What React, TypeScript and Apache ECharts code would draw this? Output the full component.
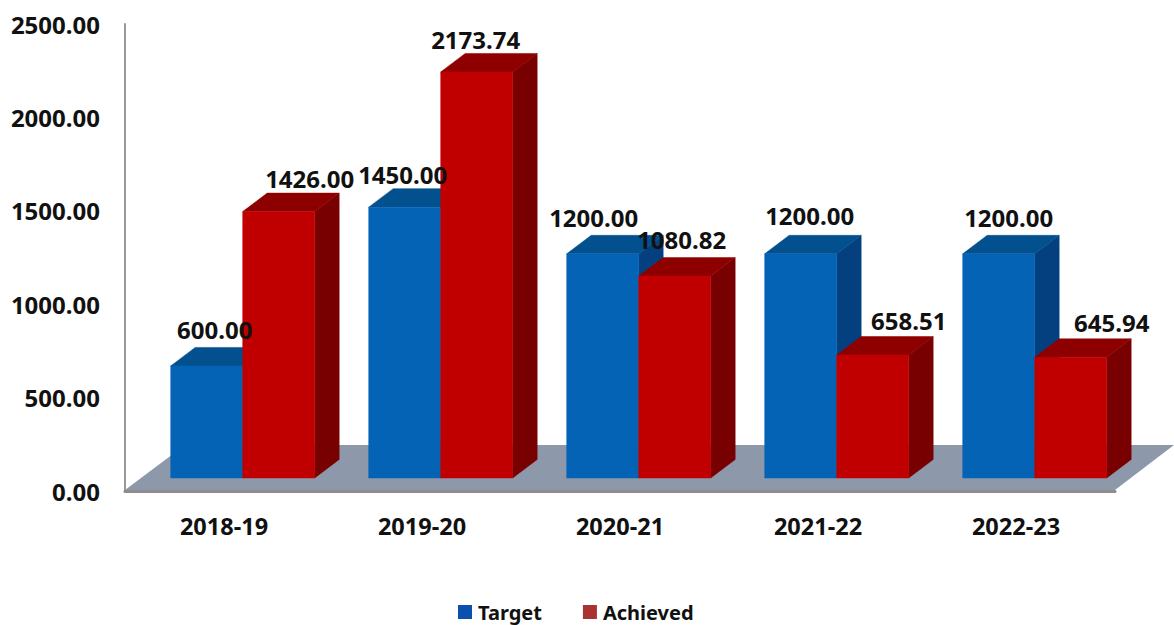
import React, { useEffect, useRef } from "react";
import * as echarts from "echarts";

const categories = ["2018-19", "2019-20", "2020-21", "2021-22", "2022-23"];
const targetValues = [600.0, 1450.0, 1200.0, 1200.0, 1200.0];
const achievedValues = [1426.0, 2173.74, 1080.82, 658.51, 645.94];

const targetLabelShift = [[8, -36], [-2, -33], [-9, -36], [9, -38], [10, -36]];
const achievedLabelShift = [[31, -33], [-1, -32], [7, -37], [36, -34], [41, -35]];

const FONT = "'Noto Sans', sans-serif";
const DEPTH_X = 24.5;
const DEPTH_Y = 18.5;
const FLOOR_X = 18.7;
const FLOOR_Y = 13;
const BAR_W = 72;

const targetFaces = { front: "#0563b6", top: "#03508f", side: "#04407f" };
const achievedFaces = { front: "#c00000", top: "#8e0000", side: "#780000" };

function bars3d(faces: any, dir: number) {
  return (params: any, api: any) => {
    const p = api.coord([api.value(0), api.value(1)]);
    const base = api.coord([api.value(0), 0]);
    const x0 = p[0] + FLOOR_X + (dir < 0 ? -BAR_W : 0);
    const x1 = x0 + BAR_W;
    const yTop = p[1] - FLOOR_Y;
    const yBase = base[1] - FLOOR_Y;
    const poly = (points: number[][], fill: string) => ({
      type: "polygon",
      shape: { points },
      style: { fill, stroke: fill, lineWidth: 0.5 },
    });
    return {
      type: "group",
      children: [
        poly(
          [[x1, yTop], [x1 + DEPTH_X, yTop - DEPTH_Y], [x1 + DEPTH_X, yBase - DEPTH_Y], [x1, yBase]],
          faces.side
        ),
        poly(
          [[x0, yTop], [x0 + DEPTH_X, yTop - DEPTH_Y], [x1 + DEPTH_X, yTop - DEPTH_Y], [x1, yTop]],
          faces.top
        ),
        poly([[x0, yTop], [x1, yTop], [x1, yBase], [x0, yBase]], faces.front),
      ],
    };
  };
}

function barLabels(dir: number, shifts: number[][]) {
  return (params: any, api: any) => {
    const v = api.value(1);
    const p = api.coord([api.value(0), v]);
    const cx = p[0] + FLOOR_X + (dir * BAR_W) / 2;
    const s = shifts[params.dataIndex];
    return {
      type: "text",
      style: {
        x: cx + s[0],
        y: p[1] - FLOOR_Y + s[1],
        text: v.toFixed(2),
        fill: "#111111",
        font: `bold 24px ${FONT}`,
        align: "center",
        verticalAlign: "middle",
      },
    };
  };
}

const pairs = (vals: number[]) => vals.map((v, i) => [i, v]);

export default function App() {
  const ref = useRef<HTMLDivElement>(null);
  useEffect(() => {
    document.body.style.margin = "0";
    document.body.style.overflow = "hidden";
    const chart = echarts.init(ref.current!, null, { renderer: "svg" });
    chart.setOption({
      animation: false,
      backgroundColor: "#ffffff",
      grid: { left: 125, top: 24, width: 990, height: 467, containLabel: false },
      legend: {
        left: 458,
        top: 602,
        itemWidth: 14,
        itemHeight: 14,
        itemGap: 41,
        padding: 0,
        selectedMode: false,
        textStyle: { fontFamily: FONT, fontWeight: "bold", fontSize: 20, color: "#111111", padding: [0, 0, 0, 1] },
        data: [
          { name: "Target", icon: "rect", itemStyle: { color: "#0b50ae" } },
          { name: "Achieved", icon: "rect", itemStyle: { color: "#a93232" } },
        ],
      },
      xAxis: {
        type: "category",
        data: categories,
        axisLine: { show: true, lineStyle: { color: "#8c8c8c", width: 3 } },
        axisTick: { show: false },
        axisLabel: {
          margin: 23,
          fontFamily: FONT,
          fontWeight: "bold",
          fontSize: 23.5,
          color: "#111111",
        },
      },
      yAxis: {
        type: "value",
        min: 0,
        max: 2500,
        interval: 500,
        splitLine: { show: false },
        axisTick: { show: false },
        axisLine: { show: true, lineStyle: { color: "#999999", width: 2 } },
        axisLabel: {
          margin: 25,
          fontFamily: FONT,
          fontWeight: "bold",
          fontSize: 24,
          color: "#111111",
          padding: [0, 0, 2, 0],
          formatter: (v: number) => v.toFixed(2),
        },
      },
      series: [
        {
          type: "custom",
          name: "floor",
          coordinateSystem: "cartesian2d",
          z: 1,
          silent: true,
          clip: false,
          data: [[0, 0]],
          renderItem: (params: any) => {
            const c = params.coordSys;
            const bottom = c.y + c.height - 1;
            const backY = bottom - 45;
            return {
              type: "polygon",
              shape: {
                points: [
                  [c.x, bottom],
                  [c.x + c.width, bottom],
                  [c.x + c.width + 59, backY],
                  [c.x + 60, backY],
                ],
              },
              style: { fill: "#8d99ab" },
            };
          },
        },
        {
          type: "custom",
          name: "Target",
          coordinateSystem: "cartesian2d",
          z: 2,
          clip: false,
          data: pairs(targetValues),
          itemStyle: { color: "#0b50ae" },
          renderItem: bars3d(targetFaces, -1),
        },
        {
          type: "custom",
          name: "Achieved",
          coordinateSystem: "cartesian2d",
          z: 3,
          clip: false,
          data: pairs(achievedValues),
          itemStyle: { color: "#a93232" },
          renderItem: bars3d(achievedFaces, 1),
        },
        {
          type: "custom",
          name: "targetLabels",
          coordinateSystem: "cartesian2d",
          z: 5,
          clip: false,
          data: pairs(targetValues),
          renderItem: barLabels(-1, targetLabelShift),
        },
        {
          type: "custom",
          name: "achievedLabels",
          coordinateSystem: "cartesian2d",
          z: 5,
          clip: false,
          data: pairs(achievedValues),
          renderItem: barLabels(1, achievedLabelShift),
        },
      ],
    });
    return () => chart.dispose();
  }, []);
  return <div ref={ref} style={{ position: "fixed", left: 0, top: 0, width: 1174, height: 625 }} />;
}
